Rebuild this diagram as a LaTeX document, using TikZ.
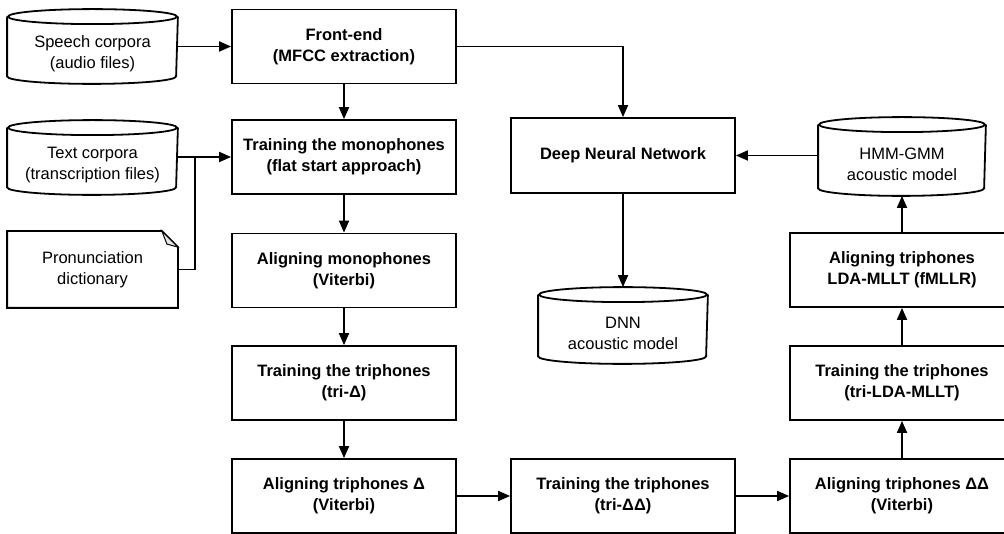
\documentclass[tikz,border=0pt]{standalone}
\usepackage{fontspec}
\setmainfont{Liberation Sans}
\usepackage{tikz}
\usetikzlibrary{arrows.meta}
\tikzset{
  proc/.style={draw,minimum width=224pt,minimum height=74pt,inner sep=0pt,align=center,
    font=\bfseries\fontsize{16.5}{21}\selectfont},
  store/.style={minimum height=58pt,inner sep=0pt,align=center,
    font=\fontsize{16.5}{21}\selectfont},
}

\begin{document}
\begin{tikzpicture}[>={Triangle[length=12pt,width=10pt]},x=1pt,y=1pt,line width=1.8pt]
	\useasboundingbox (0,0) rectangle (1004,-534);
	\node[store,minimum width=169pt] (speech) at (92.5,-54) {Speech corpora\\(audio files)};
	\node[store,minimum width=169pt] (text) at (92.5,-165) {Text corpora\\(transcription files)};
	\node[store,minimum width=169pt,minimum height=75pt] (dict) at (92.5,-269.5) {Pronunciation\\dictionary};
	\node[proc] (front) at (344,-46.5) {Front-end\\(MFCC extraction)};
	\node[proc] (mono) at (344,-157) {Training the monophones\\(flat start approach)};
	\node[proc] (ali1) at (344,-270.5) {Aligning monophones\\(Viterbi)};
	\node[proc] (tri1) at (344,-383) {Training the triphones\\(tri-Δ)};
	\node[proc] (ali2) at (344,-496) {Aligning triphones Δ\\(Viterbi)};
	\node[proc,minimum height=75pt] (dnn) at (623,-155.5) {Deep Neural Network};
	\node[store,minimum width=168pt,minimum height=60pt] (dnnm) at (623,-333) {DNN\\acoustic model};
	\node[proc] (tri2) at (623,-496) {Training the triphones\\(tri-ΔΔ)};
	\node[proc] (ali3) at (902,-496) {Aligning triphones ΔΔ\\(Viterbi)};
	\node[proc] (lda) at (902,-383) {Training the triphones\\(tri-LDA-MLLT)};
	\node[proc] (fmllr) at (902,-270) {Aligning triphones\\LDA-MLLT (fMLLR)};
	\node[store,minimum width=166pt,minimum height=62pt] (hmm) at (902,-164) {HMM-GMM\\acoustic model};
	\coordinate (j) at (195,-157);

	\foreach \n/\r in {speech/84.5,text/84.5,dnnm/84,hmm/83}{
		\draw ([yshift=7.5pt]\n.north) ellipse[x radius=\r,y radius=7.5];
		\draw ([yshift=7.5pt]\n.north west) -- ([yshift=7.5pt]\n.south west)
		arc[start angle=180,end angle=360,x radius=\r,y radius=7.5] -- ([yshift=7.5pt]\n.north east);
	}
	\draw (dict.south west) |- ([xshift=-16pt]dict.north east) -- ([yshift=-16pt]dict.north east)
	-- (dict.south east) -- cycle;
	\draw[fill=gray!20,line width=1pt] ([xshift=-16pt]dict.north east) -- ([yshift=-16pt]dict.north east)
	-- ([xshift=-11pt,yshift=-13pt]dict.north east) -- cycle;

	\draw[->] (speech.east |- front) -- (front);
	\draw[->] (text.east |- mono) -- (mono);
	\draw (dict.east) -| (j);
	\draw[->] (front.east) -| (dnn.north);
	\draw[->] (hmm.west |- dnn) -- (dnn);
	\draw[->] (dnn) -- ([yshift=15pt]dnnm.north);
	\foreach \a/\b in {front/mono,mono/ali1,ali1/tri1,tri1/ali2,ali2/tri2,tri2/ali3,ali3/lda,lda/fmllr,fmllr/hmm}
		\draw[->] (\a) -- (\b);
\end{tikzpicture}
\end{document}
